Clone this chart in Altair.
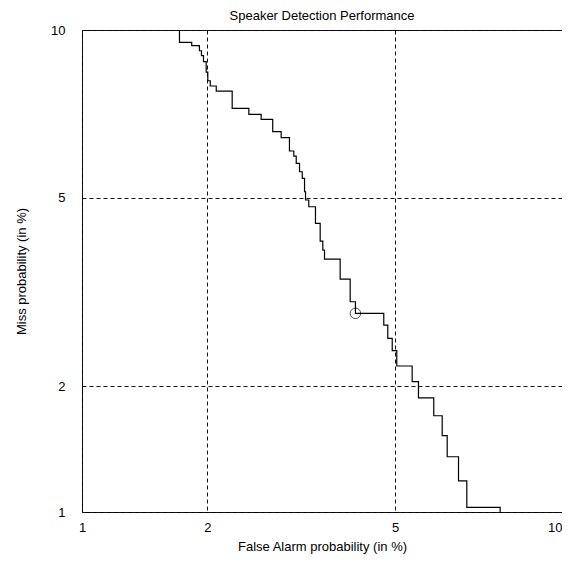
import altair as alt
import pandas as pd
from statistics import NormalDist

# DET curve corner points (step-before order), in percent
fa_pct = [1.725, 1.842, 1.919, 1.940, 1.961, 1.989, 2.006, 2.032, 2.097, 2.278,
          2.481, 2.641, 2.799, 2.919, 3.041, 3.107, 3.144, 3.195, 3.238, 3.274,
          3.290, 3.342, 3.452, 3.531, 3.576, 3.605, 3.883, 4.070, 4.171, 4.751,
          4.838, 4.936, 5.038, 5.395, 5.547, 5.930, 6.150, 6.283, 6.593, 6.828,
          7.836, 7.836]
miss_pct = [10.0, 9.539, 9.415, 9.234, 9.057, 8.848, 8.492, 8.203, 8.031, 7.870,
            7.335, 7.155, 7.008, 6.656, 6.488, 6.131, 6.000, 5.813, 5.605, 5.446,
            5.132, 4.947, 4.799, 4.450, 4.101, 3.933, 3.770, 3.427, 3.070, 2.900,
            2.736, 2.560, 2.404, 2.222, 2.048, 1.882, 1.710, 1.535, 1.367, 1.194,
            1.027, 1.0]

# operating point marker
op_fa = [4.171]
op_miss = [2.900]

tick_pct = [1, 2, 5, 10]

nd = NormalDist()
tick_vals = [nd.inv_cdf(p / 100) for p in tick_pct]
lo, hi = tick_vals[0], tick_vals[-1]

curve = pd.DataFrame({"fa": fa_pct, "miss": miss_pct, "i": list(range(len(fa_pct)))})
op = pd.DataFrame({"fa": op_fa, "miss": op_miss})

FONT = "Liberation Sans"
label_expr = "format(round(cumulativeNormal(datum.value) * 100), 'd')"

xaxis = alt.Axis(values=tick_vals, labelExpr=label_expr,
                 title="False Alarm probability (in %)",
                 grid=True, gridDash=[4, 3], gridColor="#111", gridWidth=1, gridOpacity=1,
                 ticks=False, tickSize=0, domain=False,
                 labelPadding=9, titlePadding=6, labelFont=FONT, titleFont=FONT,
                 labelFontSize=13, titleFontSize=13, titleFontWeight="normal",
                 labelColor="black", titleColor="black", labelFlush=False,
                 labelAlign={"condition": {"test": f"datum.value > {hi - 0.01}", "value": "right"},
                             "value": "center"})
yaxis = alt.Axis(values=tick_vals, labelExpr=label_expr,
                 title="Miss probability (in %)",
                 grid=True, gridDash=[4, 3], gridColor="#111", gridWidth=1, gridOpacity=1,
                 ticks=False, tickSize=0, domain=False,
                 labelPadding=17, titlePadding=22, labelFont=FONT, titleFont=FONT,
                 labelFontSize=13, titleFontSize=13, titleFontWeight="normal",
                 labelColor="black", titleColor="black", labelFlush=False)

xs = alt.Scale(domain=[lo, hi], nice=False, zero=False)
ys = alt.Scale(domain=[lo, hi], nice=False, zero=False)

line = alt.Chart(curve).transform_calculate(
    zx="quantileNormal(datum.fa / 100)",
    zy="quantileNormal(datum.miss / 100)",
).mark_line(interpolate="step-before", color="black", strokeWidth=1.2, clip=True).encode(
    x=alt.X("zx:Q", scale=xs, axis=xaxis),
    y=alt.Y("zy:Q", scale=ys, axis=yaxis),
    order="i:Q",
)

pt = alt.Chart(op).transform_calculate(
    zx="quantileNormal(datum.fa / 100)",
    zy="quantileNormal(datum.miss / 100)",
).mark_point(shape="circle", filled=False, color="black", size=110, strokeWidth=1).encode(
    x=alt.X("zx:Q", scale=xs, axis=xaxis),
    y=alt.Y("zy:Q", scale=ys, axis=yaxis),
)

chart = alt.layer(line, pt).properties(
    width=480, height=482,
    background="white",
    title=alt.TitleParams("Speaker Detection Performance", font=FONT, fontSize=13,
                          fontWeight="normal", color="black", anchor="middle",
                          baseline="alphabetic", offset=5, dy=14),
    padding={"left": 74, "top": 22, "right": 0, "bottom": 44},
    autosize=alt.AutoSizeParams(type="none"),
).configure_view(stroke="black", strokeWidth=1)

chart.save("out.html", embed_options={"renderer": "svg", "actions": False})
